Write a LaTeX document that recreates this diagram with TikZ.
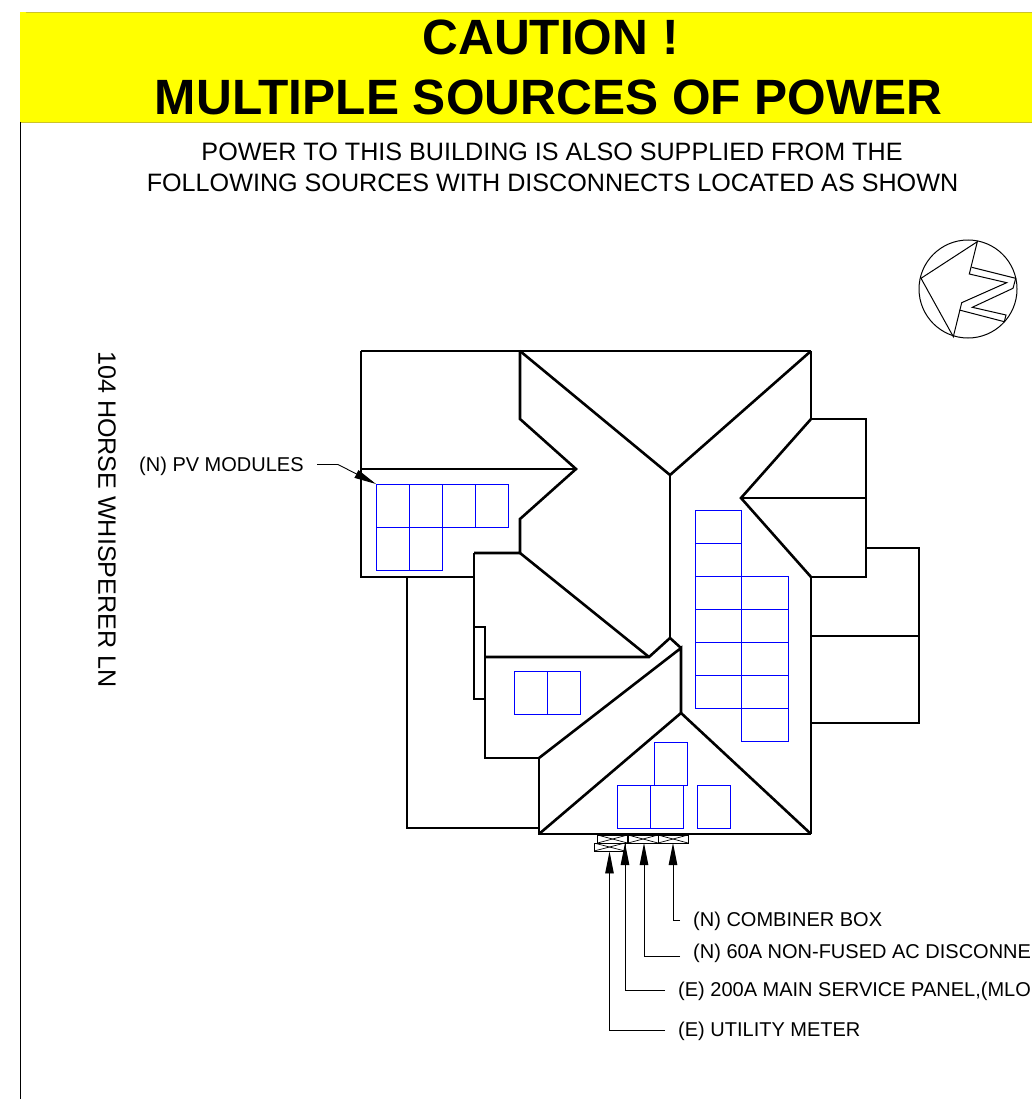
\documentclass[tikz,border=0pt]{standalone}
\usepackage{fontspec}
\setmainfont{Liberation Sans}
\usetikzlibrary{arrows.meta}
\definecolor{banner}{RGB}{255,255,0}
\definecolor{bannerline}{RGB}{205,195,40}
\definecolor{panelblue}{RGB}{0,0,255}
\tikzset{
  roof/.style={draw,line width=2.6pt,line join=miter},
  panel/.style={draw=panelblue,line width=1pt},
  equip/.style={draw,line width=0.9pt,inner sep=0pt,minimum width=30pt,minimum height=8pt,
    path picture={\draw[line width=0.7pt] (path picture bounding box.south west) -- (path picture bounding box.north east);
      \draw[line width=0.7pt] (path picture bounding box.north west) -- (path picture bounding box.south east);}},
  callout/.style={anchor=west,inner sep=0pt,font=\fontsize{20}{20}\selectfont},
  leader/.style={draw,line width=0.9pt,-{Triangle[length=22pt,width=8.5pt]}}
}
\begin{document}
\begin{tikzpicture}[x=1pt,y=-1pt]
\useasboundingbox (0,0) rectangle (1032,1099);

% banner
\path[fill=banner] (20,12) rectangle (1032,122);
\path[draw=bannerline,line width=0.8pt] (26,12.4)--(1032,12.4);
\path[draw=bannerline,line width=0.8pt] (20,122.4)--(1032,122.4);
\path[draw,line width=1pt] (20.5,122.5)--(20.5,1099);
\node[anchor=base,inner sep=0pt,font=\bfseries\fontsize{49.6}{49.6}\selectfont] (caution) at (550.5,55) {CAUTION !};
\node[anchor=base,inner sep=0pt,font=\bfseries\fontsize{49.6}{49.6}\selectfont] (multiple) at (548.5,115) {MULTIPLE SOURCES OF POWER};
\node[anchor=base,inner sep=0pt,font=\fontsize{25.15}{25.15}\selectfont] (powerline) at (552,161) {POWER TO THIS BUILDING IS ALSO SUPPLIED FROM THE};
\node[anchor=base,inner sep=0pt,font=\fontsize{25.15}{25.15}\selectfont] (followline) at (552.5,192) {FOLLOWING SOURCES WITH DISCONNECTS LOCATED AS SHOWN};
\node[anchor=west,rotate=-90,inner sep=0pt,font=\fontsize{25.1}{25.1}\selectfont] (street) at (107,351) {104 HORSE WHISPERER LN};

% north arrow
\draw[line width=1pt] (968,289) circle [radius=49];
\draw[line width=1pt] (977.3,241.7)--(969.3,274)--(1006.7,282.7)--(961.7,302.7)--(953.3,336.7)--(921,278.3)--cycle;
\draw[line width=1pt] (971.7,267.3)--(1015.7,278.3)--(1013,288.3)--(972.3,307.3)--(1006,315)--(1004.3,321.7)--(959.3,310);

% roof
\path[roof] (361,351)--(811,351);
\path[roof] (361,351)--(361,577)--(474,577);
\path[roof] (361,469)--(576,469);
\path[roof] (520,351)--(520,419)--(576,469)--(520,519)--(520,553)--(474,553);
\path[roof] (520,351)--(670,475)--(811,351);
\path[roof] (670,475)--(670,638);
\path[roof] (520,553)--(649,657);
\path[roof] (474,553)--(474,699)--(485,699);
\path[roof] (474,627)--(485,627)--(485,758)--(539,758);
\path[roof] (485,657)--(649,657)--(670,638)--(681,648);
\path[roof] (539,758)--(681,648)--(681,713);
\path[roof] (539,758)--(539,834)--(811,834);
\path[roof] (539,834)--(681,713)--(811,834);
\path[roof] (811,351)--(811,419)--(866,419)--(866,577)--(811,577);
\path[roof] (811,419)--(741,498)--(811,577);
\path[roof] (741,498)--(866,498);
\path[roof] (811,577)--(811,834);
\path[roof] (866,548)--(919,548)--(919,723)--(811,723);
\path[roof] (811,636)--(919,636);
\path[draw,line width=1.8pt] (407,577)--(407,828)--(539,828);

% modules
\path[panel] (376,484) rectangle (409,527);
\path[panel] (409,484) rectangle (442,527);
\path[panel] (442,484) rectangle (475,527);
\path[panel] (475,484) rectangle (508,527);
\path[panel] (376,527) rectangle (409,570);
\path[panel] (409,527) rectangle (442,570);

\path[panel] (695,510) rectangle (741,543);
\path[panel] (695,543) rectangle (741,576);
\path[panel] (695,576) rectangle (741,609);
\path[panel] (695,609) rectangle (741,642);
\path[panel] (695,642) rectangle (741,675);
\path[panel] (695,675) rectangle (741,708);
\path[panel] (741,576) rectangle (788,609);
\path[panel] (741,609) rectangle (788,642);
\path[panel] (741,642) rectangle (788,675);
\path[panel] (741,675) rectangle (788,708);
\path[panel] (741,708) rectangle (788,741);

\path[panel] (514,671) rectangle (547,714);
\path[panel] (547,671) rectangle (580,714);

\path[panel] (654,742) rectangle (687,785);
\path[panel] (617,785) rectangle (650,828);
\path[panel] (650,785) rectangle (683,828);
\path[panel] (697,785) rectangle (730,828);

% equipment
\node[equip] (mainpanel) at (612.5,839) {};
\node[equip] (disco) at (643,839) {};
\node[equip] (combiner) at (673,839) {};
\node[equip,minimum width=31pt] (meter) at (609.5,847) {};
\coordinate (paneltip) at (625,843);
\coordinate (discotip) at (644,843);
\coordinate (combinertip) at (673,843);

% callouts
\node[callout] (pvlabel) at (139,466) {(N) PV MODULES};
\node[callout] (combinerlabel) at (693,921.5) {(N) COMBINER BOX};
\node[callout] (discolabel) at (693,953.5) {(N) 60A NON-FUSED AC DISCONNE};
\node[callout] (panellabel) at (678,991) {(E) 200A MAIN SERVICE PANEL,(MLO};
\node[callout] (meterlabel) at (678,1031) {(E) UTILITY METER};

\coordinate (pvstart) at (317,464.5);
\coordinate (pvbend) at (338,464.5);
\coordinate (pvtip) at (376,484);
\coordinate (combinerend) at (680,920.5);
\coordinate (discoend) at (680,956.5);
\coordinate (panelend) at (665,990);
\coordinate (meterend) at (665,1030.5);

\path[leader] (pvstart)--(pvbend)--(pvtip);
\path[leader] (combinerend)-|(combinertip);
\path[leader] (discoend)-|(discotip);
\path[leader] (panelend)-|(paneltip);
\path[leader] (meterend)-|(meter.south);
\end{tikzpicture}
\end{document}
